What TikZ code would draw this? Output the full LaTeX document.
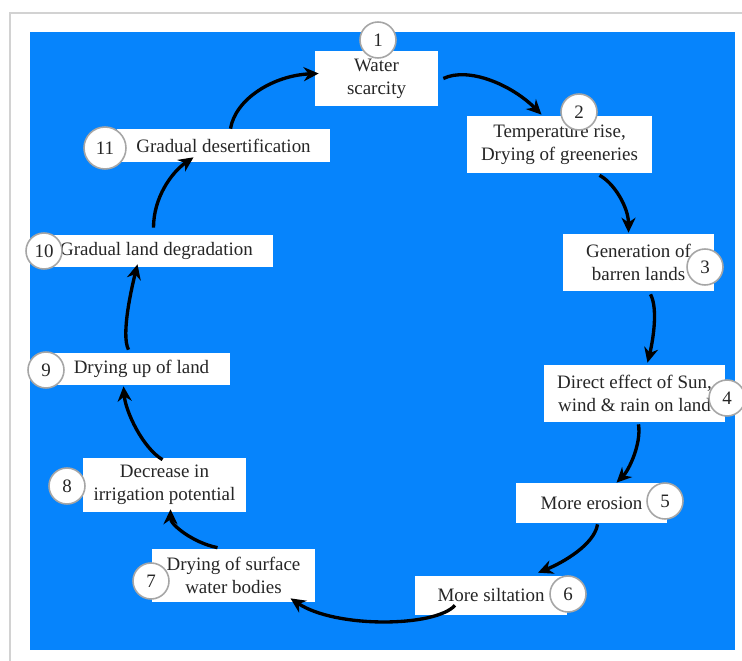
\documentclass[tikz,border=0pt]{standalone}
\usepackage{fontspec}
\setmainfont{Liberation Serif}
\usetikzlibrary{arrows.meta,calc}
\definecolor{skyblue}{RGB}{6,132,252}
\tikzset{
  box/.style={fill=white, inner sep=0pt, align=center, text=black!85, font=\fontsize{10.8}{13.2}\selectfont},
  badge/.style={circle, draw=gray!70, fill=white, line width=0.9pt, inner sep=0pt, minimum size=0.72cm, text=black!85, font=\fontsize{10.8}{13}\selectfont},
  flow/.style={line width=1.9pt, -{Stealth[length=8.5pt,width=8pt]}},
}
\begin{document}
\begin{tikzpicture}[x=0.02cm,y=-0.02cm]
		\useasboundingbox (0,0) rectangle (742,661);
		\fill[white] (0,0) rectangle (742,661);
		\draw[gray!35, line width=1pt] (10,661) -- (10,13) -- (742,13);
		\fill[skyblue] (30,32) rectangle (735,650);
		
		\node[box, minimum width=2.46cm, minimum height=1.1cm] (b1) at (376.5,78.5) {Water\\scarcity};
		\node[box, minimum width=3.7cm, minimum height=1.14cm] (b2) at (559.5,144.5) {Temperature rise,\\Drying of greeneries};
		\node[box, minimum width=3.02cm, minimum height=1.14cm] (b3) at (638.5,262.5) {Generation of\\barren lands};
		\node[box, minimum width=3.62cm, minimum height=1.14cm] (b4) at (634.5,393.5) {Direct effect of Sun,\\wind \& rain on land};
		\node[box, minimum width=3.02cm, minimum height=0.8cm] (b5) at (591.5,503) {More erosion};
		\node[box, minimum width=3.04cm, minimum height=0.78cm] (b6) at (491,595.5) {More siltation};
		\node[box, minimum width=3.26cm, minimum height=1.06cm] (b7) at (233.5,575.5) {Drying of surface\\water bodies};
		\node[box, minimum width=3.26cm, minimum height=1.08cm] (b8) at (164.5,485) {Decrease in\\irrigation potential};
		\node[box, minimum width=3.54cm, minimum height=0.64cm] (b9) at (141.5,369) {Drying up of land};
		\node[box, minimum width=4.66cm, minimum height=0.64cm] (b10) at (156.5,251) {Gradual land degradation};
		\node[box, minimum width=4.26cm, minimum height=0.66cm] (b11) at (223.5,145.5) {Gradual desertification};
		
		\draw[flow] ($(b11.north)+(7,0)$) .. controls +(5,-30) and +(-45,2) .. ($(b1.west)+(4,-5)$);
		\draw[flow] ($(b1.east)+(5,0)$) .. controls +(25,-12) and +(-30,-30) .. ($(b2.north)+(-18,-1)$);
		\draw[flow] ($(b2.south)+(40,2)$) .. controls +(15,8) and +(0,-25) .. ($(b3.north)+(-10,-1)$);
		\draw[flow] ($(b3.south)+(12,3)$) .. controls +(8,15) and +(5,-20) .. ($(b4.north)+(13,-2)$);
		\draw[flow] ($(b4.south)+(4,2)$) .. controls +(3,20) and +(12,-12) .. ($(b5.north)+(25,0)$);
		\draw[flow] ($(b5.south)+(6,1)$) .. controls +(-3,20) and +(25,-10) .. ($(b6.north)+(47,-3)$);
		\draw[flow] ($(b6.south)+(-36,-10)$) .. controls +(-20,22) and +(45,30) .. ($(b7.south)+(57,-4)$);
		\draw[flow] ($(b7.north)+(-16,-1)$) .. controls +(-25,-5) and +(0,15) .. ($(b8.south)+(6,-3)$);
		\draw[flow] ($(b8.north)+(-2,2)$) .. controls +(-20,-12) and +(2,25) .. ($(b9.south)+(-18,1)$);
		\draw[flow] ($(b9.north)+(-13,-3)$) .. controls +(-8,-15) and +(-5,20) .. ($(b10.south)+(-19,-3)$);
		\draw[flow] ($(b10.north)+(-3,-7)$) .. controls +(0,-30) and +(-22,15) .. ($(b11.south)+(-30,-5)$);
		
		\node[badge] (n1) at (378,40) {1};
		\node[badge] (n2) at (579,112) {2};
		\node[badge] (n3) at (705,267) {3};
		\node[badge] (n4) at (727,398) {4};
		\node[badge] (n5) at (665,501) {5};
		\node[badge] (n6) at (568,594) {6};
		\node[badge] (n7) at (151,581) {7};
		\node[badge] (n8) at (67,486) {8};
		\node[badge] (n9) at (46,370) {9};
		\node[badge] (n10) at (44,251) {10};
		\node[badge, minimum size=0.84cm] (n11) at (105,148) {11};
\end{tikzpicture}
\end{document}
